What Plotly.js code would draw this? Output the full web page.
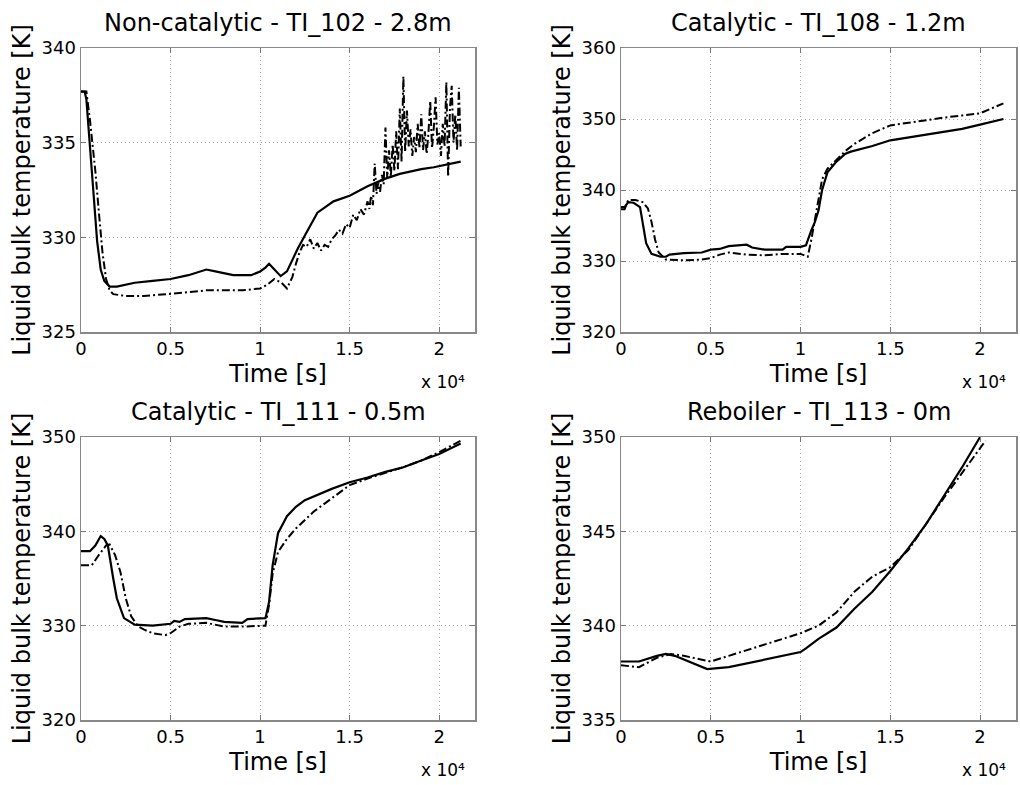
<!DOCTYPE html>
<html>
<head>
<meta charset="utf-8">
<script src="https://cdn.plot.ly/plotly-3.0.1.min.js"></script>
<style>html,body{margin:0;padding:0;background:#fff;}#chart{width:1020px;height:785px;}</style>
</head>
<body>
<div id="chart"></div>
<script>
// Time in units of 1e4 s
// --- Panel 1: Non-catalytic - TI_102 - 2.8m ---
var p1_model_t = [0, 0.02, 0.03, 0.05, 0.07, 0.09, 0.11, 0.13, 0.16, 0.2, 0.3, 0.4, 0.5, 0.6, 0.7, 0.75, 0.85, 0.95, 1.0, 1.03, 1.05, 1.08, 1.115, 1.15, 1.18, 1.21, 1.25, 1.3, 1.32, 1.41, 1.5, 1.6, 1.7, 1.78, 1.9, 1.97, 2.12];
var p1_model_T = [337.7, 337.7, 337.3, 335.0, 332.3, 329.8, 328.3, 327.7, 327.4, 327.4, 327.6, 327.7, 327.8, 328.0, 328.3, 328.2, 328.0, 328.0, 328.2, 328.4, 328.6, 328.3, 327.95, 328.2, 328.8, 329.4, 330.1, 331.0, 331.3, 331.9, 332.2, 332.7, 333.1, 333.35, 333.6, 333.7, 334.0];
var p1_exp_t = [0, 0.03, 0.05, 0.08, 0.1, 0.12, 0.14, 0.16, 0.18, 0.25, 0.35, 0.5, 0.6, 0.7, 0.8, 0.9, 1.0, 1.04, 1.08, 1.12, 1.15, 1.18, 1.2, 1.22, 1.24,
  1.26, 1.28, 1.30, 1.32, 1.34, 1.36, 1.38, 1.40, 1.42, 1.44, 1.46, 1.48, 1.50, 1.52, 1.54, 1.56, 1.58, 1.60,
  1.61, 1.62, 1.63, 1.64, 1.65, 1.66, 1.67, 1.68, 1.69, 1.70, 1.71, 1.72, 1.73, 1.74, 1.75, 1.76, 1.77, 1.78, 1.79, 1.80,
  1.81, 1.82, 1.83, 1.84, 1.85, 1.86, 1.87, 1.88, 1.89, 1.90, 1.91, 1.92, 1.93, 1.94, 1.95, 1.96, 1.97, 1.98, 1.99, 2.00,
  2.01, 2.02, 2.03, 2.04, 2.05, 2.06, 2.07, 2.08, 2.09, 2.10, 2.11, 2.12];
var p1_exp_T = [337.7, 337.7, 336.2, 333.5, 331.3, 329.2, 327.8, 327.2, 327.0, 326.9, 326.9, 327.0, 327.1, 327.2, 327.2, 327.2, 327.3, 327.5, 327.8, 327.6, 327.3, 327.9, 328.6, 329.2, 329.6,
  329.5, 329.9, 329.4, 329.7, 329.3, 329.6, 329.5, 329.9, 330.1, 330.4, 330.2, 330.7, 330.5, 331.2, 330.9, 331.5, 331.2, 331.9,
  331.5, 332.2, 331.7, 333.9, 332.3, 332.9, 332.4, 333.3, 332.8, 335.8, 333.1, 334.6, 333.2, 334.9, 333.5, 335.6, 333.6, 336.8, 334.0, 338.5,
  334.5, 336.7, 334.8, 335.7, 334.3, 335.3, 334.5, 336.0, 334.7, 336.5, 334.6, 335.6, 334.4, 335.5, 337.2, 334.7, 335.8, 337.4, 334.9, 335.5,
  334.3, 336.0, 334.8, 338.2, 333.2, 336.8, 338.0, 335.0, 336.5, 334.6, 337.9, 334.8];

// --- Panel 2: Catalytic - TI_108 - 1.2m ---
var p2_model_t = [0, 0.02, 0.04, 0.07, 0.106, 0.125, 0.14, 0.17, 0.22, 0.25, 0.27, 0.35, 0.45, 0.5, 0.55, 0.6, 0.7, 0.73, 0.8, 0.9, 0.92, 1.0, 1.03, 1.06, 1.08, 1.1, 1.12, 1.15, 1.2, 1.25, 1.28, 1.4, 1.5, 1.7, 1.8, 1.9, 2.0, 2.13];
var p2_model_T = [337.6, 337.6, 338.3, 338.2, 337.6, 334.8, 332.5, 331.0, 330.6, 330.6, 330.9, 331.1, 331.2, 331.6, 331.7, 332.1, 332.3, 331.9, 331.6, 331.6, 332.0, 332.0, 332.2, 334.3, 335.5, 337.1, 340.0, 342.5, 344.0, 345.1, 345.4, 346.2, 347.0, 347.8, 348.2, 348.6, 349.2, 350.0];
var p2_exp_t = [0, 0.02, 0.04, 0.08, 0.12, 0.15, 0.17, 0.19, 0.21, 0.25, 0.35, 0.45, 0.5, 0.55, 0.6, 0.7, 0.8, 0.9, 1.0, 1.04, 1.06, 1.08, 1.1, 1.12, 1.15, 1.2, 1.25, 1.3, 1.4, 1.5, 1.6, 1.7, 1.8, 1.9, 2.0, 2.13];
var p2_exp_T = [337.3, 337.3, 338.6, 338.6, 338.3, 337.4, 335.5, 333.0, 331.2, 330.2, 330.1, 330.2, 330.4, 330.9, 331.2, 330.9, 330.8, 331.0, 331.0, 330.6, 333.0, 336.0, 339.0, 341.5, 343.0, 344.3, 345.5, 346.5, 348.0, 349.1, 349.5, 349.9, 350.2, 350.5, 350.8, 352.2];

// --- Panel 3: Catalytic - TI_111 - 0.5m ---
var p3_model_t = [0, 0.05, 0.08, 0.11, 0.13, 0.15, 0.18, 0.2, 0.24, 0.3, 0.4, 0.45, 0.5, 0.52, 0.55, 0.58, 0.7, 0.75, 0.8, 0.9, 0.93, 1.03, 1.05, 1.07, 1.1, 1.15, 1.2, 1.25, 1.3, 1.4, 1.5, 1.6, 1.7, 1.8, 1.9, 2.0, 2.12];
var p3_model_T = [337.9, 337.9, 338.5, 339.5, 339.2, 338.5, 335.0, 332.9, 330.8, 330.1, 330.0, 330.1, 330.2, 330.5, 330.4, 330.7, 330.8, 330.6, 330.4, 330.3, 330.7, 330.8, 332.5, 336.4, 339.8, 341.6, 342.6, 343.3, 343.7, 344.5, 345.2, 345.7, 346.3, 346.8, 347.5, 348.2, 349.3];
var p3_exp_t = [0, 0.06, 0.1, 0.14, 0.16, 0.19, 0.22, 0.25, 0.28, 0.32, 0.35, 0.4, 0.47, 0.5, 0.55, 0.6, 0.7, 0.8, 0.9, 1.03, 1.05, 1.07, 1.1, 1.15, 1.2, 1.3, 1.4, 1.5, 1.6, 1.7, 1.8, 1.9, 2.0, 2.12];
var p3_exp_T = [336.4, 336.4, 337.5, 338.5, 338.6, 337.5, 335.7, 332.9, 331.0, 329.9, 329.6, 329.2, 329.0, 329.2, 329.9, 330.2, 330.3, 329.9, 329.9, 330.0, 332.2, 335.5, 337.8, 339.2, 340.3, 342.1, 343.5, 344.9, 345.6, 346.2, 346.8, 347.5, 348.4, 349.6];

// --- Panel 4: Reboiler - TI_113 - 0m ---
var p4_model_t = [0, 0.1, 0.2, 0.25, 0.3, 0.4, 0.48, 0.6, 0.7, 0.8, 0.9, 1.0, 1.03, 1.1, 1.2, 1.3, 1.4, 1.5, 1.6, 1.7, 1.8, 1.9, 2.0];
var p4_model_T = [338.1, 338.1, 338.4, 338.5, 338.4, 338.0, 337.7, 337.8, 338.0, 338.2, 338.4, 338.6, 338.8, 339.3, 339.9, 340.9, 341.8, 342.9, 344.1, 345.4, 346.9, 348.4, 350.0];
var p4_exp_t = [0, 0.1, 0.2, 0.28, 0.35, 0.5, 0.6, 0.7, 0.8, 0.9, 1.0, 1.1, 1.2, 1.3, 1.4, 1.5, 1.6, 1.7, 1.8, 1.9, 2.0, 2.03];
var p4_exp_T = [337.9, 337.8, 338.3, 338.5, 338.4, 338.1, 338.4, 338.7, 339.0, 339.3, 339.6, 340.0, 340.7, 341.8, 342.6, 343.1, 344.0, 345.4, 346.8, 348.1, 349.4, 349.8];

var titles = ["Non-catalytic - TI_102 - 2.8m", "Catalytic - TI_108 - 1.2m", "Catalytic - TI_111 - 0.5m", "Reboiler - TI_113 - 0m"];
var yRanges = [[325, 340], [320, 360], [320, 350], [335, 350]];
var yDticks = [5, 10, 10, 5];
var xTickVals = [0, 0.5, 1, 1.5, 2];
var xTickText = ["0", "0.5", "1", "1.5", "2"];
var xTitle = "Time [s]";
var yTitle = "Liquid bulk temperature [K]";
var xScaleLabel = "x 10\u2074";

var series = [
  [p1_model_t, p1_model_T, p1_exp_t, p1_exp_T],
  [p2_model_t, p2_model_T, p2_exp_t, p2_exp_T],
  [p3_model_t, p3_model_T, p3_exp_t, p3_exp_T],
  [p4_model_t, p4_model_T, p4_exp_t, p4_exp_T]
];

var W = 1020, H = 785;
var FONT = "DejaVu Sans, Liberation Sans, Arial, sans-serif";
var xDomPx = [[81, 475], [621, 1016], [81, 475], [621, 1016]];
var yDomPx = [[48, 332], [48, 332], [437, 720], [437, 720]];

var traces = [];
var layout = {
  width: W, height: H,
  margin: {l: 0, r: 0, t: 0, b: 0},
  paper_bgcolor: "#ffffff",
  plot_bgcolor: "#ffffff",
  showlegend: false,
  font: {family: FONT, color: "#000"},
  annotations: []
};

for (var i = 0; i < 4; i++) {
  var sfx = i === 0 ? "" : String(i + 1);
  var xa = "x" + sfx, ya = "y" + sfx;
  var s = series[i];
  traces.push({x: s[0], y: s[1], xaxis: xa, yaxis: ya, type: "scatter", mode: "lines",
    line: {color: "#000", width: 2.2}, hoverinfo: "skip"});
  traces.push({x: s[2], y: s[3], xaxis: xa, yaxis: ya, type: "scatter", mode: "lines",
    line: {color: "#000", width: 2, dash: "8px,3px,2px,3px"}, hoverinfo: "skip"});

  var xd = [xDomPx[i][0] / W, xDomPx[i][1] / W];
  var yd = [1 - yDomPx[i][1] / H, 1 - yDomPx[i][0] / H];
  layout["xaxis" + sfx] = {
    domain: xd, anchor: ya, range: [0, 2.2],
    tickvals: xTickVals, ticktext: xTickText,
    ticks: "inside", ticklen: 5, tickcolor: "#777",
    showline: true, linecolor: "#888", linewidth: 1.5, mirror: "allticks",
    showgrid: true, gridcolor: "#a8a8a8", griddash: "1px,3px", gridwidth: 1,
    zeroline: false,
    tickfont: {family: FONT, size: 18, color: "#000"},
    title: {text: xTitle, font: {family: FONT, size: 24, color: "#000"}, standoff: 7}
  };
  layout["yaxis" + sfx] = {
    domain: yd, anchor: xa, range: yRanges[i], dtick: yDticks[i],
    ticks: "inside", ticklen: 5, tickcolor: "#777",
    showline: true, linecolor: "#888", linewidth: 1.5, mirror: "allticks",
    showgrid: true, gridcolor: "#a8a8a8", griddash: "1px,3px", gridwidth: 1,
    zeroline: false,
    tickfont: {family: FONT, size: 18, color: "#000"},
    title: {text: yTitle, font: {family: FONT, size: 24, color: "#000"}, standoff: 4}
  };
  layout.annotations.push({
    text: titles[i], xref: "paper", yref: "paper",
    x: (xd[0] + xd[1]) / 2, y: yd[1], yshift: 9,
    xanchor: "center", yanchor: "bottom", showarrow: false,
    font: {family: FONT, size: 24, color: "#000"}
  });
  layout.annotations.push({
    text: xScaleLabel, xref: "paper", yref: "paper",
    x: (xDomPx[i][1] - 8) / W, y: 1 - (yDomPx[i][1] + 62) / H,
    xanchor: "right", yanchor: "bottom", showarrow: false,
    font: {family: FONT, size: 17, color: "#000"}
  });
}

Plotly.newPlot("chart", traces, layout, {staticPlot: true, displayModeBar: false});
</script>
</body>
</html>
